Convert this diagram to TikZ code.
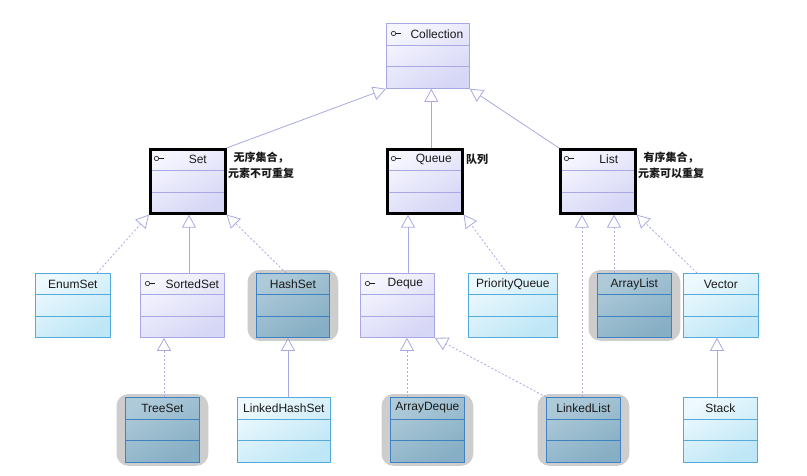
\documentclass[tikz,border=0pt]{standalone}
\usepackage{fontspec}
\setmainfont{Liberation Sans}
\newfontfamily\cjk{Noto Sans CJK SC}
\usetikzlibrary{arrows.meta,calc,fit,backgrounds}
\definecolor{ifTop}{HTML}{F6F6FF}
\definecolor{ifBot}{HTML}{D6D6F6}
\definecolor{ifLine}{HTML}{A8A8E6}
\definecolor{clTop}{HTML}{EDF9FE}
\definecolor{clBot}{HTML}{BDE6F6}
\definecolor{clLine}{HTML}{55AADC}
\definecolor{hiTop}{HTML}{AECAD9}
\definecolor{hiBot}{HTML}{86AEC4}
\definecolor{hiLine}{HTML}{3E82C2}
\definecolor{halo}{HTML}{CDCDCD}
\definecolor{conn}{HTML}{A9A9E4}
\definecolor{txt}{HTML}{1A1A1A}
\newcommand\umlrows[3]{%
  \draw[#2, line width=0.8pt, shorten <=#3, shorten >=#3]
    ($(#1.north west)!1/3!(#1.south west)$) -- ($(#1.north east)!1/3!(#1.south east)$);
  \draw[#2, line width=0.8pt, shorten <=#3, shorten >=#3]
    ($(#1.north west)!2/3!(#1.south west)$) -- ($(#1.north east)!2/3!(#1.south east)$);
}
\newcommand\ifaceicon[1]{%
  \draw[txt, line width=0.6pt] ($(#1.north west)+(7.5,10.5)$) circle (2.2pt);
  \draw[txt, line width=0.6pt] ($(#1.north west)+(9.7,10.5)$) -- ($(#1.north west)+(14.5,10.5)$);
}
\tikzset{
  umlbox/.style={rectangle, inner sep=0pt, anchor=north west},
  iface/.style={umlbox, draw=ifLine, line width=0.8pt, top color=ifTop, bottom color=ifBot, shading angle=30},
  thickiface/.style={umlbox, draw=black, line width=2.6pt, top color=ifTop, bottom color=ifBot, shading angle=30},
  cls/.style={umlbox, draw=clLine, line width=0.8pt, top color=clTop, bottom color=clBot, shading angle=30},
  hicls/.style={umlbox, draw=hiLine, line width=0.8pt, top color=hiTop, bottom color=hiBot, shading angle=30},
  halobg/.style={rectangle, fill=halo, draw=none, rounded corners=12pt, inner xsep=8.5pt, inner ysep=3pt},
  hdr/.style={font=\fontsize{12}{14}\selectfont, text=txt, inner sep=0pt},
  note/.style={font=\cjk\bfseries\fontsize{11}{16}\selectfont, text=txt, inner sep=0pt, align=center},
  ext/.style={draw=conn, line width=0.8pt, -{Triangle[open, length=13pt, width=14pt]}},
  impl/.style={draw=conn, line width=0.8pt, dash pattern=on 2pt off 2pt, -{Triangle[open, length=13pt, width=14pt]}},
}
\begin{document}
\begin{tikzpicture}[x=1pt, y=-1pt]
\begin{scope}[on background layer]
  \fill[white] (0,0) rectangle (807,475);
\end{scope}
\useasboundingbox (0,0) rectangle (807,475);

% ---- boxes ----
\node[iface, minimum width=83pt, minimum height=65pt] (Collection) at (386,23) {};
\node[thickiface, minimum width=75pt, minimum height=64pt] (Set) at (149,148) {};
\node[thickiface, minimum width=75pt, minimum height=64pt] (Queue) at (386,148) {};
\node[thickiface, minimum width=75pt, minimum height=64pt] (List) at (559,148) {};

\node[cls, minimum width=75pt, minimum height=64pt] (EnumSet) at (35,273) {};
\node[iface, minimum width=84pt, minimum height=64pt] (SortedSet) at (140,273) {};
\node[hicls, minimum width=73pt, minimum height=64pt] (HashSet) at (256,273) {};
\node[iface, minimum width=74pt, minimum height=64pt] (Deque) at (360,273) {};
\node[cls, minimum width=89pt, minimum height=64pt] (PriorityQueue) at (468,273) {};
\node[hicls, minimum width=74pt, minimum height=64pt] (ArrayList) at (597,273) {};
\node[cls, minimum width=75pt, minimum height=64pt] (Vector) at (683,273) {};

\node[hicls, minimum width=74pt, minimum height=65pt] (TreeSet) at (125,397) {};
\node[cls, minimum width=93pt, minimum height=65pt] (LinkedHashSet) at (237,397) {};
\node[hicls, minimum width=74pt, minimum height=65pt] (ArrayDeque) at (390,397) {};
\node[hicls, minimum width=74pt, minimum height=65pt] (LinkedList) at (546,397) {};
\node[cls, minimum width=74pt, minimum height=65pt] (Stack) at (683,397) {};

% ---- grey halos behind highlighted classes ----
\begin{scope}[on background layer]
  \node[halobg, fit=(HashSet)] (HashSet-halo) {};
  \node[halobg, fit=(ArrayList)] (ArrayList-halo) {};
  \node[halobg, fit=(TreeSet)] (TreeSet-halo) {};
  \node[halobg, fit=(ArrayDeque)] (ArrayDeque-halo) {};
  \node[halobg, fit=(LinkedList)] (LinkedList-halo) {};
\end{scope}

% ---- compartments ----
\umlrows{Collection}{ifLine}{0pt}
\umlrows{Set}{ifLine}{2.6pt}
\umlrows{Queue}{ifLine}{2.6pt}
\umlrows{List}{ifLine}{2.6pt}
\umlrows{SortedSet}{ifLine}{0pt}
\umlrows{Deque}{ifLine}{0pt}
\umlrows{EnumSet}{clLine}{0pt}
\umlrows{PriorityQueue}{clLine}{0pt}
\umlrows{Vector}{clLine}{0pt}
\umlrows{LinkedHashSet}{clLine}{0pt}
\umlrows{Stack}{clLine}{0pt}
\umlrows{HashSet}{hiLine}{0pt}
\umlrows{ArrayList}{hiLine}{0pt}
\umlrows{TreeSet}{hiLine}{0pt}
\umlrows{ArrayDeque}{hiLine}{0pt}
\umlrows{LinkedList}{hiLine}{0pt}

% ---- interface icons ----
\ifaceicon{Collection}
\ifaceicon{Set}
\ifaceicon{Queue}
\ifaceicon{List}
\ifaceicon{SortedSet}
\ifaceicon{Deque}

% ---- names ----
\node[hdr] (Collection-name) at ($(Collection.north)+(9,11)$) {Collection};
\node[hdr] (Set-name) at ($(Set.north)+(10,11.5)$) {Set};
\node[hdr] (Queue-name) at ($(Queue.north)+(9,11.5)$) {Queue};
\node[hdr] (List-name) at ($(List.north)+(11,11.5)$) {List};
\node[hdr] (SortedSet-name) at ($(SortedSet.north)+(10,11)$) {SortedSet};
\node[hdr] (Deque-name) at ($(Deque.north)+(8,11)$) {Deque};
\node[hdr] (EnumSet-name) at ($(EnumSet.north)+(0,11)$) {EnumSet};
\node[hdr] (HashSet-name) at ($(HashSet.north)+(0,11)$) {HashSet};
\node[hdr] (PriorityQueue-name) at ($(PriorityQueue.north)+(0,11)$) {PriorityQueue};
\node[hdr] (ArrayList-name) at ($(ArrayList.north)+(0,11)$) {ArrayList};
\node[hdr] (Vector-name) at ($(Vector.north)+(0,11)$) {Vector};
\node[hdr] (TreeSet-name) at ($(TreeSet.north)+(0,11)$) {TreeSet};
\node[hdr] (LinkedHashSet-name) at ($(LinkedHashSet.north)+(0,11)$) {LinkedHashSet};
\node[hdr] (ArrayDeque-name) at ($(ArrayDeque.north)+(0,11)$) {ArrayDeque};
\node[hdr] (LinkedList-name) at ($(LinkedList.north)+(0,11)$) {LinkedList};
\node[hdr] (Stack-name) at ($(Stack.north)+(0,11)$) {Stack};

% ---- notes ----
\node[note] (Set-note) at (261,165) {无序集合，\\元素不可重复};
\node[note] (Queue-note) at (477,159) {队列};
\node[note] (List-note) at (671,165) {有序集合，\\元素可以重复};

% ---- connectors ----
\draw[ext] (Set.north east) -- (Collection.south west);
\draw[ext] ($(Queue.north)+(6.5,0)$) coordinate (q1) -- (q1 |- Collection.south);
\draw[ext] (List.north west) -- (Collection.south east);

\draw[impl] ($(EnumSet.north west)+(62,0)$) -- (Set.south west);
\draw[ext] ($(SortedSet.north west)+(49,0)$) coordinate (s1) -- (s1 |- Set.south);
\draw[impl] ($(HashSet.north west)+(30,0)$) -- (Set.south east);

\draw[ext] ($(Deque.north west)+(48,0)$) coordinate (d1) -- (d1 |- Queue.south);
\draw[impl] ($(PriorityQueue.north west)+(39,0)$) -- (Queue.south east);

\draw[impl] ($(LinkedList.north west)+(36,0)$) coordinate (l1) -- (l1 |- List.south);
\draw[impl] ($(ArrayList.north west)+(17,0)$) coordinate (a1) -- (a1 |- List.south);
\draw[impl] ($(Vector.north west)+(14,0)$) -- (List.south east);

\draw[impl] ($(TreeSet.north west)+(39,0)$) coordinate (t1) -- (t1 |- SortedSet.south);
\draw[ext] ($(LinkedHashSet.north west)+(51,0)$) coordinate (h1) -- (h1 |- HashSet.south);
\draw[impl] ($(ArrayDeque.north west)+(17,0)$) coordinate (ad1) -- (ad1 |- Deque.south);
\draw[impl] (LinkedList.north west) -- (Deque.south east);
\draw[ext] ($(Stack.north west)+(34,0)$) coordinate (st1) -- (st1 |- Vector.south);
\end{tikzpicture}
\end{document}
